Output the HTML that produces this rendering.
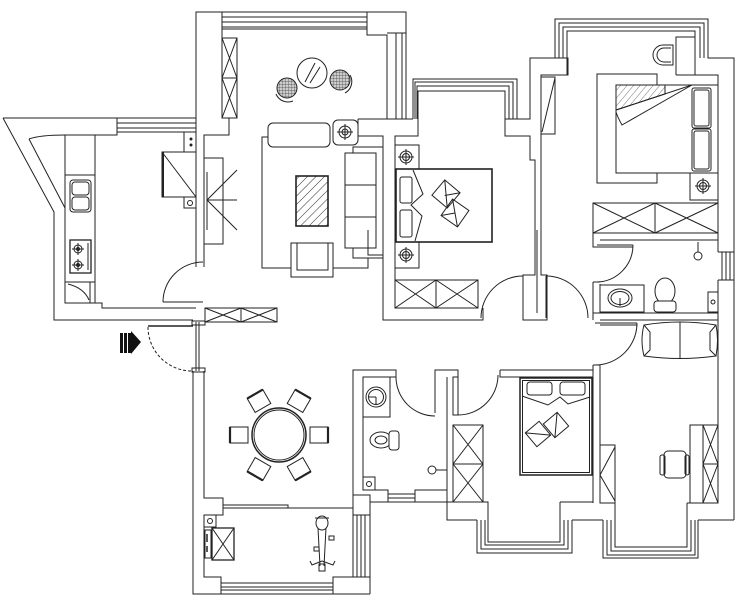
<!DOCTYPE html>
<html><head><meta charset="utf-8">
<style>html,body{margin:0;padding:0;background:#fff;}svg{display:block}</style></head>
<body>
<svg width="750" height="599" viewBox="0 0 750 599" xmlns="http://www.w3.org/2000/svg">
<defs>
<pattern id="h1" width="6" height="6" patternUnits="userSpaceOnUse" patternTransform="rotate(45)"><line x1="0" y1="0" x2="0" y2="6" stroke="#333" stroke-width="1"/></pattern>
<pattern id="h2" width="5" height="5" patternUnits="userSpaceOnUse" patternTransform="rotate(40)"><line x1="0" y1="0" x2="0" y2="5" stroke="#555" stroke-width="0.8"/></pattern>
<pattern id="grid" width="3" height="3" patternUnits="userSpaceOnUse"><rect width="3" height="3" fill="#ccc"/><path d="M0,0H3M0,0V3" stroke="#444" stroke-width="0.7"/></pattern>
</defs>
<rect width="750" height="599" fill="#fff"/>
<g fill="none" stroke="#222" stroke-width="1">

<!-- ===== SUN ROOM ===== -->
<path d="M196,267 V12 H406 V119"/>
<path d="M204,267 V135 H229 V118"/>
<path d="M222,12 V38"/>
<path d="M222,17 H367 M222,22 H367 M222,27 H367 M222,29 H367"/>
<path d="M367,12 V35 H387 V119"/>
<path d="M396,33 V119 M402,33 V119 M387,33 H406"/>
<rect x="222" y="38" width="15" height="80"/>
<path d="M222,78 H237 M222,38 L237,78 M237,38 L222,78 M222,78 L237,118 M237,78 L222,118"/>
<circle cx="312" cy="73" r="15"/>
<path d="M305,82 L315,63 M310,83 L320,67"/>
<circle cx="287" cy="88" r="10" fill="url(#grid)"/>
<path d="M276,94 A13,13 0 0 0 293,101"/>
<circle cx="340" cy="80" r="10" fill="url(#grid)"/>
<path d="M350,75 A13,13 0 0 1 345,93"/>

<!-- ===== KITCHEN ===== -->
<path d="M3,118 H117 V135 H95"/>
<path d="M117,123 H196 M117,128 H196 M117,132 H196 M117,118 H196"/>
<path d="M3,118 L54,212 V320 H193"/>
<path d="M29,139 Q40,135 65,135 H95"/>
<path d="M29,139 L65,208"/>
<path d="M65,135 V303 H95 V135"/>
<path d="M65,175 H95 M65,282 H95"/>
<rect x="70" y="180" width="21" height="32" rx="3"/>
<rect x="72" y="182" width="17" height="13" rx="3"/>
<rect x="72" y="197" width="17" height="13" rx="3"/>
<rect x="70" y="240" width="21" height="33" stroke-width="1.3"/>
<circle cx="78" cy="249" r="4"/><circle cx="78" cy="249" r="1.5" fill="#222"/>
<circle cx="78" cy="265" r="4"/><circle cx="78" cy="265" r="1.5" fill="#222"/>
<path d="M72,249 H84 M78,243 V255 M72,265 H84 M78,259 V271 M88,243 V270"/>
<rect x="65" y="282" width="25" height="21"/>
<path d="M68,284 Q84,288 89,300"/>
<path d="M95,303 H102 V308 H196"/>
<rect x="184" y="132" width="12" height="20"/>
<circle cx="191" cy="139" r="1" fill="#222"/><circle cx="191" cy="145" r="1" fill="#222"/>
<rect x="162" y="152" width="34" height="45"/>
<path d="M162,152 L196,197"/>
<path d="M163,152 V197" stroke-width="2"/>
<rect x="184" y="197" width="12" height="11"/>
<circle cx="190" cy="203" r="2.5"/>
<!-- kitchen door -->
<path d="M163,302 H203"/>
<path d="M163,302 A40,40 0 0 1 203,262"/>

<!-- ===== ENTRY ===== -->
<path d="M148,326 H193" stroke-width="1.5"/>
<path d="M148,327 A44,44 0 0 0 192,371" stroke-dasharray="3,2"/>
<path d="M196,322 V371 M199,322 V371"/>
<rect x="192" y="321" width="13" height="4"/>
<rect x="192" y="368" width="13" height="4"/>
<rect x="205" y="308" width="72" height="14"/>
<path d="M241,308 V322 M205,308 L241,322 M241,308 L205,322 M241,308 L277,322 M277,308 L241,322"/>
</g>
<g fill="#111" stroke="none">
<rect x="120" y="333" width="3" height="20"/>
<rect x="124" y="333" width="3" height="20"/>
<rect x="128" y="333" width="3" height="20"/>
<polygon points="131,331 141,342 131,354"/>
</g>
<g fill="none" stroke="#222" stroke-width="1">

<!-- ===== LIVING ROOM ===== -->
<rect x="204" y="158" width="19" height="86"/>
<path d="M207,172 V230"/>
<path d="M207,200 L237,170 M207,200 L237,200 M207,200 L237,230"/>
<path d="M268,137 H262 V268 H368 V253"/>
<rect x="268" y="123" width="62" height="24" rx="5" fill="#fff"/>
<rect x="333" y="120" width="25" height="25" rx="5" fill="#fff"/>
<circle cx="345" cy="132" r="6"/><circle cx="345" cy="132" r="3"/>
<path d="M337,132 H353 M345,124 V140"/>
<rect x="353" y="147" width="30" height="111" fill="#fff"/>
<rect x="345" y="153" width="31" height="95" fill="#fff"/>
<path d="M345,185 H376 M345,217 H376"/>
<rect x="296" y="176" width="32" height="50" fill="url(#h1)" stroke-width="1.6"/>
<rect x="291" y="243" width="42" height="34" fill="#fff"/>
<rect x="297" y="243" width="31" height="27" fill="#fff"/>
<path d="M368,230 V255 H383"/>

<!-- ===== BEDROOM 1 ===== -->
<path d="M358,119 H413"/>
<path d="M358,119 V136 H383 V320 H483 V308"/>
<path d="M395,308 V136 H418 V91 H505 V136 H530 V160 H535 V275 H523 V320 H547 V275 H541 V75 H568 V58 H530 V119 H505"/>
<path d="M413,119 V79 H517 V119 M415,119 V82 H513 V119 M417,119 V86 H509 V119"/>
<rect x="541" y="77" width="14" height="57"/>
<path d="M555,78 L542,132"/>
<path d="M537,230 V313"/>
<rect x="395" y="145" width="24" height="24"/>
<circle cx="406" cy="157" r="6"/><circle cx="406" cy="157" r="3.5"/><path d="M398,157 H414 M406,149 V165"/>
<rect x="395" y="242" width="24" height="26"/>
<circle cx="406" cy="255" r="6"/><circle cx="406" cy="255" r="3.5"/><path d="M398,255 H414 M406,247 V263"/>
<rect x="396" y="169" width="96" height="73" fill="#fff" stroke-width="1.6"/>
<rect x="400" y="177" width="12" height="26" rx="2"/>
<rect x="400" y="210" width="12" height="27" rx="2"/>
<path d="M413,170 L423,194 L411,205 L422,216 L415,241"/>
<g transform="translate(446,194) rotate(40)"><rect x="-10" y="-10" width="20" height="20"/><path d="M-10,-10 L10,10 M10,-10 L0,2"/></g>
<g transform="translate(455,213) rotate(35)"><rect x="-10" y="-10" width="20" height="20"/><path d="M-10,-10 L10,10 M-10,10 L0,0"/></g>
<rect x="395" y="280" width="83" height="28"/>
<path d="M436,280 V308 M395,280 L436,308 M436,280 L395,308 M436,280 L478,308 M478,280 L436,308"/>
<!-- bedroom1 door -->
<path d="M523,276 A42,42 0 0 0 481,318"/>
<!-- master door -->
<path d="M546,276 V318"/>
<path d="M546,276 A42,42 0 0 1 588,318"/>

<!-- ===== MASTER SUITE ===== -->
<path d="M530,58 H555 V19 H708 V58 H734 V520"/>
<path d="M559,58 V23 H704 V58 M563,58 V27 H700 V58"/>
<path d="M567,75 V31 H695 V37"/>
<path d="M676,75 V37 H695 V75"/>
<path d="M676,75 H718 V252 M718,280 V503"/>
<path d="M718,252 H734 M718,280 H734 M722,252 V280 M726,252 V280 M730,252 V280"/>
<path d="M673,45 H663 A10,10 0 0 0 663,65 H673 Z"/>
<path d="M671,48 H664 A7,7 0 0 0 664,62 H671"/>
<rect x="597" y="74" width="60" height="109"/>
<rect x="616" y="85" width="102" height="88" fill="#fff"/>
<polygon points="616,85 665,85 665,94 616,110" fill="url(#h2)"/>
<path d="M616,110 L692,85 L622,125 Q618,118 616,112"/>
<rect x="692" y="88" width="19" height="40" rx="2"/>
<rect x="694" y="90" width="15" height="36" rx="2"/>
<rect x="692" y="129" width="19" height="42" rx="2"/>
<rect x="694" y="131" width="15" height="38" rx="2"/>
<rect x="690" y="173" width="28" height="27"/>
<circle cx="703" cy="186" r="6"/><circle cx="703" cy="186" r="3.5"/><path d="M695,186 H711 M703,178 V194"/>
<rect x="593" y="203" width="125" height="30"/>
<path d="M655,203 V233 M593,203 L655,233 M655,203 L593,233 M655,203 L718,233 M718,203 L655,233"/>

<!-- ===== BATH 2 ===== -->
<path d="M593,233 V247 H597"/>
<path d="M600,240 H718"/>
<path d="M597,245 H633 M597,247 H633"/>
<path d="M633,245 A37,37 0 0 1 597,282"/>
<path d="M593,282 V320 M600,284 V313 M593,282 H600"/>
<path d="M593,313 H718 M600,320 H718"/>
<rect x="600" y="285" width="44" height="27"/>
<ellipse cx="620" cy="298" rx="12" ry="9"/>
<ellipse cx="620" cy="298" rx="9" ry="6.5"/>
<path d="M620,298 V306"/>
<ellipse cx="665" cy="291" rx="10" ry="13"/>
<rect x="654" y="301" width="22" height="11" rx="3" fill="#fff"/>
<circle cx="698" cy="256" r="4"/><path d="M698,242 V252"/>
<rect x="708" y="292" width="10" height="20"/><circle cx="713" cy="302" r="2"/>

<!-- ===== STUDY ===== -->
<path d="M593,365 H600 V503 H615 M593,365 V503"/>
<path d="M595,323 H637 M600,325 H637"/>
<path d="M637,323 A42,42 0 0 1 595,365"/>
<path d="M644,325 Q680,319 716,325 Q719,340 716,356 Q680,361 644,356 Q640,340 644,325 Z"/>
<path d="M680,322 V359 M644,325 L650,332 V350 L644,356 M716,325 L710,332 V350 L716,356"/>
<rect x="600" y="445" width="15" height="58"/>
<path d="M615,447 L600,475 L615,501"/>
<rect x="690" y="425" width="28" height="78"/>
<path d="M703,425 V503 M703,464 H718 M703,425 L718,464 M718,425 L703,464 M703,464 L718,503 M718,464 L703,503"/>
<rect x="664" y="451" width="22" height="27" rx="4"/>
<rect x="660" y="455" width="5" height="20" rx="2"/>
<rect x="685" y="455" width="4" height="20" rx="2"/>
<path d="M687,503 H718"/>
<path d="M698,520 H734"/>
<path d="M603,520 V558 H698 V520 M607,520 V555 H695 V520 M611,520 V551 H691 V520 M615,503 V547 H687 V503"/>

<!-- ===== BEDROOM 2 ===== -->
<path d="M500,370 H593 M500,370 V377 H593"/>
<path d="M435,413 V370 H458 V377 H453 V415 H458 V377"/>
<path d="M458,415 A40,40 0 0 0 498,375"/>
<path d="M447,377 V520 H477"/>
<rect x="453" y="425" width="30" height="77"/>
<path d="M453,464 H483 M453,425 L483,464 M483,425 L453,464 M453,464 L483,502 M483,464 L453,502"/>
<path d="M483,502 H488 M560,502 H593"/>
<path d="M572,520 H603"/>
<path d="M477,520 V553 H572 V520 M481,520 V549 H568 V520 M485,520 V545 H564 V520 M488,502 V542 H560 V502"/>
<rect x="520" y="378" width="72" height="97" stroke-width="1.5"/>
<rect x="522.5" y="380.5" width="67" height="92"/>
<rect x="527" y="382" width="25" height="13" rx="3"/>
<rect x="560" y="382" width="25" height="13" rx="3"/>
<path d="M522,396 L548,405 L560,397 L568,404 L590,397"/>
<g transform="translate(538,434) rotate(-40)"><rect x="-9" y="-9" width="18" height="18"/><path d="M-9,-9 L9,9"/></g>
<g transform="translate(556,425) rotate(-40)"><rect x="-9" y="-9" width="18" height="18"/><path d="M9,-9 L-9,9"/></g>

<!-- ===== GUEST BATH ===== -->
<path d="M353,577 V370 H396 V377 H363 V490 H388 V502"/>
<path d="M415,502 V490 H447"/>
<path d="M370,502 H488 V520"/>
<path d="M353,495 H370 V594"/>
<path d="M388,494 H415 M388,498 H415"/>
<path d="M396,377 A39,39 0 0 0 435,416"/>
<rect x="363" y="377" width="27" height="40"/>
<circle cx="376" cy="397" r="10"/><circle cx="376" cy="397" r="7.5"/>
<path d="M376,397 H368 M376,397 V405"/>
<ellipse cx="381" cy="440" rx="11" ry="8"/>
<ellipse cx="381" cy="440" rx="6" ry="4"/>
<rect x="389" y="431" width="10" height="19" rx="3" fill="#fff"/>
<rect x="363" y="477" width="12" height="13"/><circle cx="369" cy="484" r="2.5"/>
<circle cx="432" cy="470" r="4"/><path d="M436,470 H447"/>

<!-- ===== DINING / GYM ===== -->
<path d="M193,371 V594 H370"/>
<path d="M204,371 V498 H223 V515 H204 V577 H221 V594"/>
<path d="M223,505 H288 V508 H353 M223,508 H288"/>
<path d="M353,515 H370 M353,577 H370 M357,515 V577 M361,515 V577 M365,515 V577"/>
<path d="M221,583 H333 M221,587 H333 M221,590 H333"/>
<path d="M333,594 V577 H370"/>
<circle cx="279" cy="435" r="27" stroke-width="1.5"/>
<circle cx="279" cy="435" r="25"/>
<g transform="translate(239,435)"><rect x="-9" y="-8" width="18" height="16"/><path d="M-9,-8 V8" stroke-width="2.2"/></g>
<g transform="translate(319,435)"><rect x="-9" y="-8" width="18" height="16"/><path d="M9,-8 V8" stroke-width="2.2"/></g>
<g transform="translate(259,401) rotate(-30)"><rect x="-9" y="-8" width="18" height="16"/><path d="M-9,-8 H9" stroke-width="2.2"/></g>
<g transform="translate(299,401) rotate(30)"><rect x="-9" y="-8" width="18" height="16"/><path d="M-9,-8 H9" stroke-width="2.2"/></g>
<g transform="translate(259,469) rotate(30)"><rect x="-9" y="-8" width="18" height="16"/><path d="M-9,8 H9" stroke-width="2.2"/></g>
<g transform="translate(299,469) rotate(-30)"><rect x="-9" y="-8" width="18" height="16"/><path d="M-9,8 H9" stroke-width="2.2"/></g>
<rect x="204" y="515" width="12" height="12"/><circle cx="210" cy="521" r="2.5"/>
<rect x="212" y="528" width="22" height="32" stroke-width="1.3"/>
<path d="M212,528 L234,560 M234,528 L212,560"/>
<rect x="205" y="530" width="6" height="28"/>
<path d="M207,534 V542 M207,546 V552" stroke-width="1.5"/>
<ellipse cx="322" cy="523" rx="6" ry="7"/>
<path d="M315,518 H329"/>
<path d="M318,528 L320,566 M326,528 L324,566"/>
<rect x="329" y="536" width="5" height="4"/>
<rect x="314" y="547" width="5" height="4"/>
<path d="M322,561 L312,565 L310,561 M322,561 L333,565 L335,561"/>
<rect x="319" y="564" width="6" height="7"/>
</g>
</svg>
</body></html>
